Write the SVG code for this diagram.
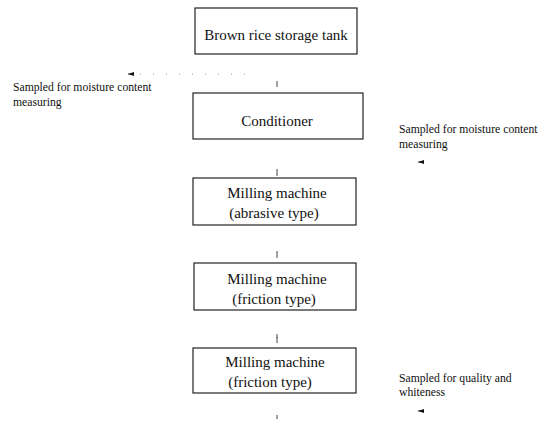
<svg xmlns="http://www.w3.org/2000/svg" width="552" height="426" viewBox="0 0 552 426">
<style>
.box{fill:#fff;stroke:#222;stroke-width:1.2}
.t{font-family:"Liberation Serif",serif;font-size:15px;fill:#111;text-anchor:middle}
.s{font-family:"Liberation Serif",serif;font-size:11.7px;fill:#111}
.c{stroke:#444;stroke-width:1;fill:none}
.d{stroke:#999;stroke-width:1;stroke-dasharray:1 12;fill:none}
</style>
<defs>
<marker id="ah" markerWidth="6" markerHeight="4" refX="0" refY="2" orient="auto" markerUnits="userSpaceOnUse">
<path d="M6,0 L0,2 L6,4 Z" fill="#111"/>
</marker>
</defs>
<rect width="552" height="426" fill="#fff"/>
<g id="connectors">
<line class="c" x1="277" y1="81" x2="277" y2="87"/>
<line class="c" x1="277" y1="169" x2="277" y2="176"/>
<line class="c" x1="277" y1="251" x2="277" y2="258"/>
<line class="c" x1="277" y1="334" x2="277" y2="338"/>
<line class="c" x1="277" y1="337" x2="277" y2="343"/>
<line class="c" x1="277" y1="415" x2="277" y2="419"/>
<line class="d" x1="140" y1="74" x2="255" y2="74"/>
<line class="c" x1="128" y1="74" x2="134" y2="74" stroke-width="1.5" marker-start="url(#ah)"/>
<line class="c" x1="418" y1="162" x2="424" y2="162" stroke-width="1.5" marker-start="url(#ah)"/>
<line class="c" x1="418" y1="411" x2="424" y2="411" stroke-width="1.5" marker-start="url(#ah)"/>
</g>
<g id="storage-tank">
<rect class="box" x="195" y="8" width="162" height="46"/>
<text class="t" x="276" y="40">Brown rice storage tank</text>
</g>
<g id="conditioner">
<rect class="box" x="193" y="93" width="170" height="46"/>
<text class="t" x="277" y="126">Conditioner</text>
</g>
<g id="mill-abrasive">
<rect class="box" x="193" y="178" width="163" height="47"/>
<text class="t" x="277" y="198">Milling machine</text>
<text class="t" x="274" y="218">(abrasive type)</text>
</g>
<g id="mill-friction-1">
<rect class="box" x="194" y="263" width="162" height="47"/>
<text class="t" x="277" y="284">Milling machine</text>
<text class="t" x="274" y="304">(friction type)</text>
</g>
<g id="mill-friction-2">
<rect class="box" x="193" y="348" width="163" height="45"/>
<text class="t" x="275" y="367">Milling machine</text>
<text class="t" x="270" y="387">(friction type)</text>
</g>
<g id="sample-left">
<text class="s" x="13" y="91">Sampled for moisture content</text>
<text class="s" x="13" y="106">measuring</text>
</g>
<g id="sample-right">
<text class="s" x="399" y="133">Sampled for moisture content</text>
<text class="s" x="399" y="148">measuring</text>
</g>
<g id="sample-quality">
<text class="s" x="399" y="382">Sampled for quality and</text>
<text class="s" x="399" y="396">whiteness</text>
</g>
</svg>
